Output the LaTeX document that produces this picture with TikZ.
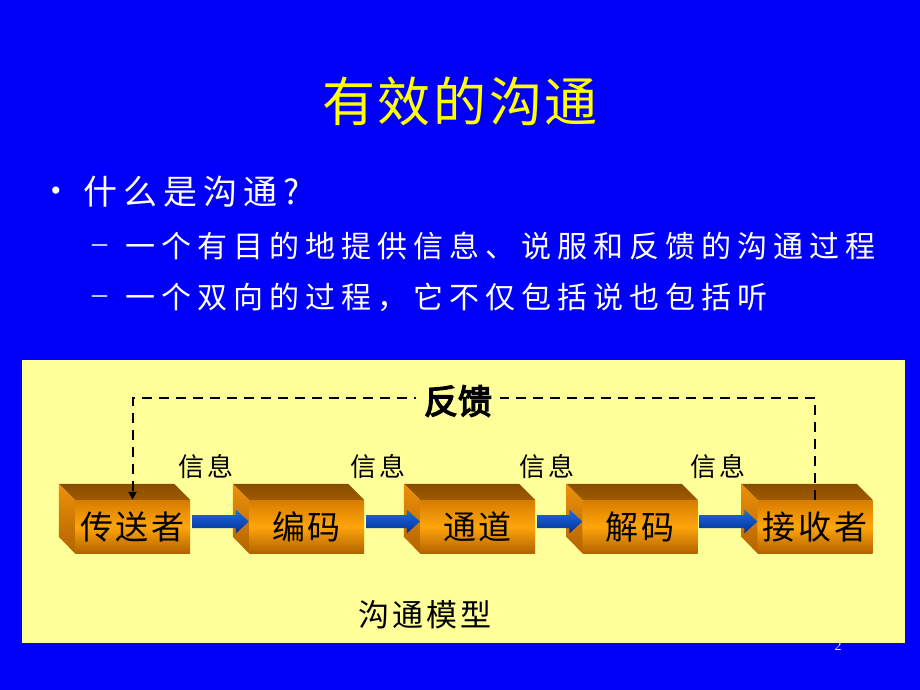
\documentclass[tikz,border=0pt]{standalone}
\usepackage{fontspec}
\setmainfont{Liberation Serif}
\newfontfamily\cjk{Noto Sans CJK SC}
\newfontfamily\cjktitle[LetterSpace=5]{Noto Sans CJK SC}
\newfontfamily\cjkhead[LetterSpace=18]{Noto Sans CJK SC}
\newfontfamily\cjksub[LetterSpace=20]{Noto Sans CJK SC}
\newfontfamily\cjkbox[LetterSpace=9]{Noto Sans CJK SC}
\newfontfamily\cjkinfo[LetterSpace=10]{Noto Sans CJK SC}
\newfontfamily\cjkbold[FakeBold=4]{Noto Sans CJK SC}
\usetikzlibrary{arrows.meta,calc}
\definecolor{slideblue}{RGB}{0,0,250}
\definecolor{panel}{RGB}{255,255,153}
\definecolor{titleyellow}{RGB}{255,255,0}
\definecolor{facetop}{RGB}{214,124,0}
\definecolor{facemid}{RGB}{255,165,10}
\definecolor{facebot}{RGB}{178,100,0}
\definecolor{lidcol}{RGB}{160,90,0}
\definecolor{sidetop}{RGB}{236,145,10}
\definecolor{sidebot}{RGB}{180,100,0}
\definecolor{arrtop}{RGB}{30,110,225}
\definecolor{arrbot}{RGB}{0,45,150}
\tikzset{
  txt/.style={inner sep=0pt, outer sep=0pt},
  cube/.style={rectangle, inner sep=0pt, minimum width=115pt, minimum height=53pt,
    top color=facetop, bottom color=facebot, middle color=facemid,
    font=\fontsize{33}{36}\selectfont\cjkbox, text=black},
  info/.style={txt, font=\fontsize{26}{30}\selectfont\cjkinfo, text=black},
  feedback/.style={line width=2pt, dash pattern=on 10pt off 7pt},
}
\newcommand\cubesides[1]{%
  \shade[top color=lidcol!85!black, bottom color=lidcol]
    (#1.north west) -- ++(-16,-16) -- ($(#1.north east)+(-16,-16)$) -- (#1.north east) -- cycle;
  \shade[top color=sidetop, bottom color=sidebot]
    (#1.north west) -- ++(-16,-16) -- ++(0,53) -- (#1.south west) -- cycle;
}
\newcommand\flowarrow[2]{%
  \shade[top color=arrtop, bottom color=arrbot]
    ($(#1.east)+(2,-11.5)$) -- ($(#2.west)+(-13,-11.5)$) -- ($(#2.west)+(-13,-17)$)
    -- ($(#2.west)+(0,-5)$) -- ($(#2.west)+(-13,7)$) -- ($(#2.west)+(-13,1.5)$)
    -- ($(#1.east)+(2,1.5)$) -- cycle;
}
\begin{document}
\begin{tikzpicture}[x=1pt,y=-1pt]
\fill[slideblue] (0,0) rectangle (920,690);
\useasboundingbox (0,0) rectangle (920,690);

% title and bullets
\node[txt, text=titleyellow, font=\fontsize{53}{56}\selectfont\cjktitle] (title) at (460,101) {有效的沟通};
\node[txt, text=white, font=\fontsize{30}{34}\selectfont] (bul) at (56,194) {\textbullet};
\node[txt, anchor=west, text=white, font=\fontsize{34}{38}\selectfont\cjkhead] (q) at (83,192) {什么是沟通?};
\node[txt, anchor=west, text=white, font=\fontsize{30}{34}\selectfont] (d1) at (92,249) {–};
\node[txt, anchor=west, text=white, font=\fontsize{30}{34}\selectfont\cjksub] (l1) at (125,246) {一个有目的地提供信息、说服和反馈的沟通过程};
\node[txt, anchor=west, text=white, font=\fontsize{30}{34}\selectfont] (d2) at (92,300) {–};
\node[txt, anchor=west, text=white, font=\fontsize{30}{34}\selectfont\cjksub] (l2) at (125,297) {一个双向的过程，它不仅包括说也包括听};

% panel
\fill[panel] (22,360) rectangle (905,643);

% boxes
\node[cube] (b1) at (132.5,526.5) {传送者};
\node[cube] (b2) at (306.5,526.5) {编码};
\node[cube] (b3) at (477.5,526.5) {通道};
\node[cube] (b4) at (640,526.5) {解码};
\node[cube] (b5) at (815,526.5) {接收者};
\cubesides{b1}
\cubesides{b2}
\cubesides{b3}
\cubesides{b4}
\cubesides{b5}
\flowarrow{b1}{b2}
\flowarrow{b2}{b3}
\flowarrow{b3}{b4}
\flowarrow{b4}{b5}

% info labels
\node[info] (i1) at (206,467) {信息};
\node[info] (i2) at (378,467) {信息};
\node[info] (i3) at (547,467) {信息};
\node[info] (i4) at (718,467) {信息};

% feedback loop
\coordinate (fr) at (815,398);
\coordinate (fl) at (132.5,398);
\draw[feedback, -{Triangle[length=8pt,width=8pt]}] (b5.north) -- (fr) -- (fl) -- (b1.north);
\node[txt, fill=panel, inner xsep=8pt, inner ysep=2pt, font=\fontsize{34}{36}\selectfont\cjkbold, text=black] (fb) at (458,401) {反馈};

% caption
\node[txt, text=black, font=\fontsize{31}{34}\selectfont\cjkinfo] (cap) at (425,615) {沟通模型};

% page number
\node[txt, text=white!85!gray, font=\fontsize{14}{16}\selectfont] (pg) at (838,646) {2};
\end{tikzpicture}
\end{document}
